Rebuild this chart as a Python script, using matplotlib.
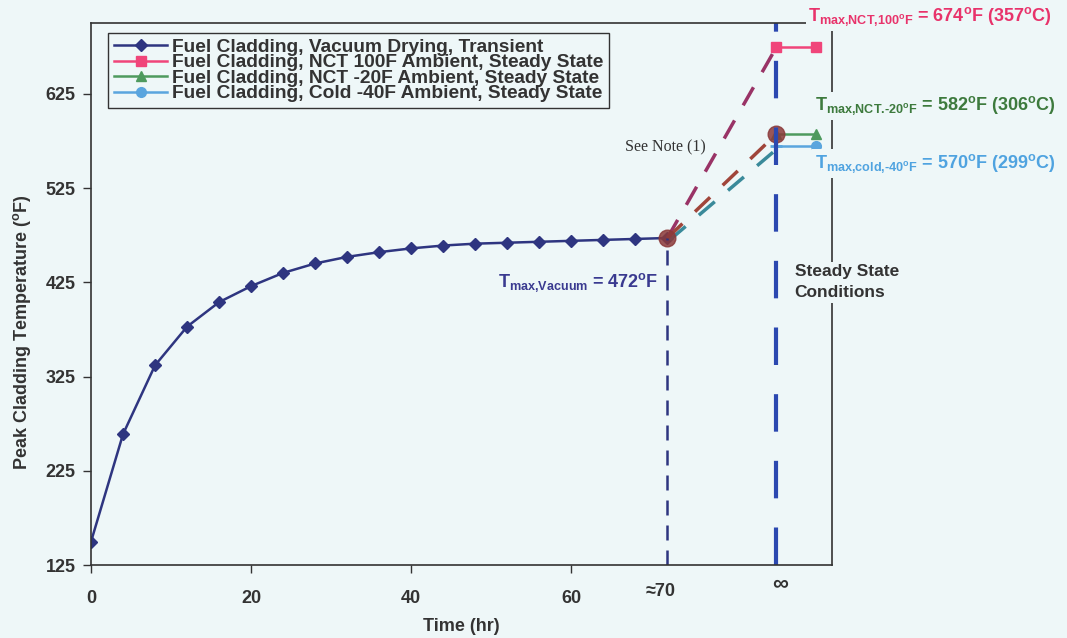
import matplotlib
matplotlib.use("Agg")
import matplotlib.pyplot as plt

# peak cladding temperature, vacuum drying transient
time_hr = [0, 4, 8, 12, 16, 20, 24, 28, 32, 36, 40, 44, 48, 52, 56, 60, 64, 68, 72]
vacuum_temp = [150, 264, 337, 378, 404, 421, 435, 445, 452, 457, 461, 464, 466,
               467, 468, 469, 470, 471, 472]

# steady state results, plotted at "infinity"
x_inf = 85.6
ss_time = [85.6, 90.6]
nct_100 = [674, 674]
nct_m20 = [582, 582]
cold_m40 = [570, 570]

y_ticks = [125, 225, 325, 425, 525, 625]
x_ticks = [0, 20, 40, 60]

bg = "#eef7f8"
navy = "#2e3580"
pink = "#f0457a"
green = "#4e9a5e"
lblue = "#5aa5de"
dark = "#333333"

plt.rcParams["font.family"] = ["Liberation Sans", "DejaVu Sans"]
plt.rcParams["mathtext.fontset"] = "custom"
plt.rcParams["mathtext.rm"] = "Liberation Sans:bold"
plt.rcParams["mathtext.bf"] = "Liberation Sans:bold"
plt.rcParams["mathtext.default"] = "bf"

fig = plt.figure(figsize=(10.67, 6.38), dpi=100, facecolor=bg)
ax = fig.add_axes([0.0853, 0.114, 0.6947, 0.85], facecolor=bg)

ax.plot(time_hr, vacuum_temp, color=navy, lw=1.8, marker="D", ms=6,
        label="Fuel Cladding, Vacuum Drying, Transient")
ax.plot(ss_time, nct_100, color=pink, lw=1.8, marker="s", ms=7,
        label="Fuel Cladding, NCT 100F Ambient, Steady State")
ax.plot(ss_time, nct_m20, color=green, lw=1.8, marker="^", ms=7,
        label="Fuel Cladding, NCT -20F Ambient, Steady State")
ax.plot(ss_time, cold_m40, color=lblue, lw=1.8, marker="o", ms=7, markevery=[1],
        label="Fuel Cladding, Cold -40F Ambient, Steady State")
ax.plot([ss_time[0]], [cold_m40[0]], color=lblue, marker="+", ms=9, mew=2)

# dashed links from end of transient to steady state
t_end = time_hr[-1]
T_end = vacuum_temp[-1]
ax.plot([t_end, x_inf], [T_end, nct_100[0]], color="#993366", lw=2.5, dashes=(6, 5))
ax.plot([t_end + 0.3, x_inf + 0.3], [T_end - 2, cold_m40[0] - 2], color="#3a8a9a",
        lw=2.5, dashes=(6, 5))
ax.plot([t_end, x_inf], [T_end, nct_m20[0]], color="#a0453a", lw=2.5, dashes=(6, 5))
ax.plot([t_end, x_inf], [T_end, nct_m20[0]], ls="none", marker="o", ms=12,
        color="#8b3a3a", alpha=0.85)

# vertical markers
ax.plot([t_end, t_end], [125, T_end], color=navy, lw=1.8, dashes=(6, 4))
ax.plot([x_inf, x_inf], [125, 700], color="#2b48b0", lw=3, dashes=(9, 7))

ax.set_xlim(0, 92.6)
ax.set_ylim(125, 700)
ax.set_yticks(y_ticks)
ax.set_xticks(x_ticks)
ax.tick_params(labelsize=13, colors=dark, length=6, width=1)
for lab in ax.get_xticklabels() + ax.get_yticklabels():
    lab.set_fontweight("bold")
ax.tick_params(axis="x", pad=12)
ax.tick_params(axis="y", pad=5)
ax.text(71.1, 125 - 28, "≈70", ha="center", va="center", fontsize=13,
        fontweight="bold", color=dark, clip_on=False)
ax.text(x_inf + 0.5, 125 - 19, "∞", ha="center", va="center", fontsize=16,
        fontweight="bold", color=dark, clip_on=False)

for s in ax.spines.values():
    s.set_color(dark)
    s.set_linewidth(1.2)

ax.set_xlabel("Time (hr)", fontsize=13, fontweight="bold", color=dark)
ax.xaxis.set_label_coords(0.5, -0.098)
ax.set_ylabel("Peak Cladding Temperature ($^{o}$F)", fontsize=13,
              fontweight="bold", color=dark)
ax.yaxis.set_label_coords(-0.078, 0.43)

leg = ax.legend(loc="upper left", bbox_to_anchor=(0.023, 0.982), borderaxespad=0,
                prop={"size": 13.8, "weight": "bold"}, labelspacing=-0.1,
                handlelength=2.8, handletextpad=0.25, borderpad=0.3,
                fancybox=False, edgecolor=dark, facecolor=bg, framealpha=1)
leg.get_frame().set_linewidth(1)
for t in leg.get_texts():
    t.set_color(dark)

box = dict(facecolor=bg, edgecolor="none", pad=2)
ax.text(89.6, 707, r"T$_{\text{max,NCT,100}{}^{o}\text{F}}$ = 674$^{o}$F (357$^{o}$C)",
        color="#e8336b", fontsize=13, fontweight="bold", ha="left", va="center",
        clip_on=False, bbox=box)
ax.text(90.4, 612, r"T$_{\text{max,NCT.-20}{}^{o}\text{F}}$ = 582$^{o}$F (306$^{o}$C)",
        color="#3d7a3d", fontsize=13, fontweight="bold", ha="left", va="center",
        clip_on=False, bbox=box)
ax.text(90.4, 551, r"T$_{\text{max,cold,-40}{}^{o}\text{F}}$ = 570$^{o}$F (299$^{o}$C)",
        color="#4fa3e0", fontsize=13, fontweight="bold", ha="left", va="center",
        clip_on=False, bbox=box)
ax.text(71.8, 568, "See Note (1)", family="Liberation Serif", fontsize=11.5,
        color=dark, ha="center", va="center")
ax.text(50.8, 425, r"T$_{\text{max,Vacuum}}$ = 472$^{o}$F", color="#3a3a90",
        fontsize=13, fontweight="bold", ha="left", va="center")
ax.text(87.9, 425, "Steady State\nConditions", color=dark, fontsize=12.5,
        fontweight="bold", ha="left", va="center", linespacing=1.5,
        clip_on=False, bbox=box)

fig.savefig("out.png", dpi=100, facecolor=bg)
